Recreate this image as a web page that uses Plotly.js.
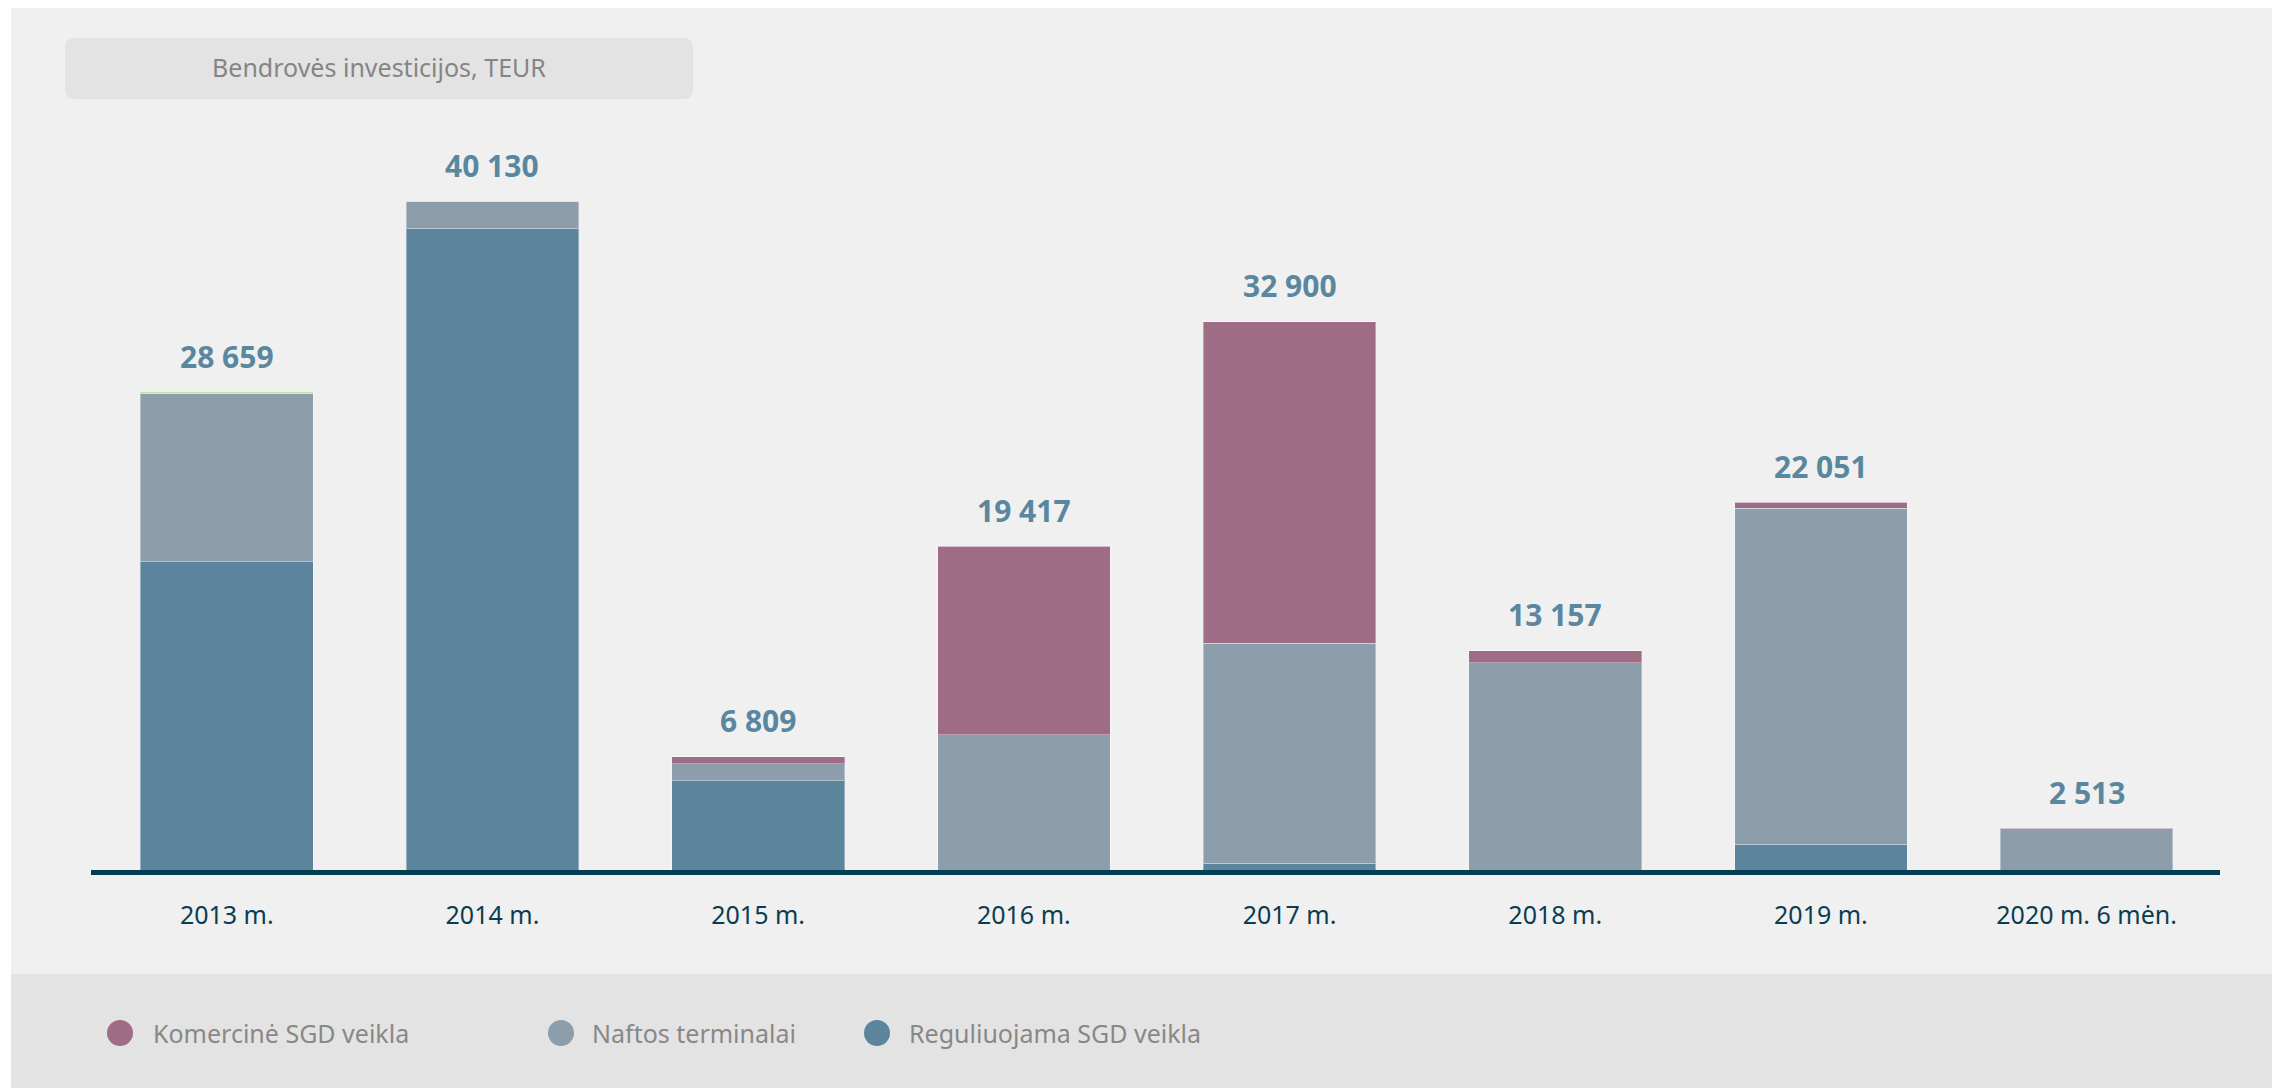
<!DOCTYPE html>
<html>
<head>
<meta charset="utf-8">
<script src="https://cdn.plot.ly/plotly-3.0.1.min.js"></script>
<style>
  html, body { margin: 0; padding: 0; background: #ffffff; }
  #chart { width: 2272px; height: 1088px; }
</style>
</head>
<body>
<div id="chart"></div>
<script>
// ---- Data ----
const categories = ["2013 m.", "2014 m.", "2015 m.", "2016 m.", "2017 m.", "2018 m.", "2019 m.", "2020 m. 6 mėn."];
const reguliuojama = [18500, 38520, 5369, 0, 420, 0, 1550, 0];
const naftos = [10099, 1610, 1020, 8122, 13190, 12440, 20141, 2483];
const komercine = [0, 0, 420, 11295, 19290, 717, 360, 30];
const kita = [60, 0, 0, 0, 0, 0, 0, 0];
const seriesNames = ["Komercinė SGD veikla", "Naftos terminalai", "Reguliuojama SGD veikla"];
const chartTitle = "Bendrovės investicijos, TEUR";

// ---- Geometry helpers ----
const W = 2272, H = 1088;
const M = { l: 91, r: 52, t: 120, b: 218 };
const pw = W - M.l - M.r, ph = H - M.t - M.b;
const px2x = px => (px - M.l) / pw;
const py2y = py => (H - M.b - py) / ph;

const colors = {
  kom: "#9e6c84",
  naf: "#8c9dac",
  reg: "#5c859d",
  kita: "#a8d27c"
};
const barLine = { color: "rgba(255,255,255,0.35)", width: 1 };
const FONT = "Noto Sans, Open Sans, sans-serif";

function barTrace(name, vals, color) {
  return {
    type: "bar", name: name, x: categories, y: vals,
    marker: { color: color, line: barLine },
    showlegend: false, hoverinfo: "name+y"
  };
}

const traces = [
  barTrace(seriesNames[2], reguliuojama, colors.reg),
  barTrace(seriesNames[1], naftos, colors.naf),
  barTrace(seriesNames[0], komercine, colors.kom),
  barTrace("Kita", kita, colors.kita)
];

const totals = categories.map((c, i) => reguliuojama[i] + naftos[i] + komercine[i] + kita[i]);
const fmt = v => Math.round(v).toString().replace(/\B(?=(\d{3})+(?!\d))/g, " ");

const annotations = categories.map((c, i) => ({
  x: c, y: totals[i], xref: "x", yref: "y",
  text: "<b>" + fmt(totals[i]) + "</b>",
  showarrow: false, yanchor: "middle", yshift: 36,
  font: { family: FONT, size: 30, color: "#5a87a0" }
}));

// Legend (custom, circles + text), built from series names
const legendColors = [colors.kom, colors.naf, colors.reg];
const legendMarkX = [120, 561, 877];
const legendTextX = [151, 590, 907];
const legendY = 1033;
const R = 13;

const shapes = [];
// panel background
shapes.push({
  type: "rect", xref: "paper", yref: "paper", layer: "below",
  x0: px2x(11), x1: px2x(W), y0: py2y(H), y1: py2y(8),
  fillcolor: "#f0f0f0", line: { width: 0 }
});
// legend band
shapes.push({
  type: "rect", xref: "paper", yref: "paper", layer: "below",
  x0: px2x(11), x1: px2x(W), y0: py2y(H), y1: py2y(974),
  fillcolor: "#e3e3e3", line: { width: 0 }
});
// title rounded box
(function () {
  const x0 = 65, x1 = 693, y0 = 38, y1 = 99, r = 10;
  const X = px2x, Y = py2y;
  const p = `M ${X(x0 + r)} ${Y(y0)} L ${X(x1 - r)} ${Y(y0)} Q ${X(x1)} ${Y(y0)} ${X(x1)} ${Y(y0 + r)} ` +
            `L ${X(x1)} ${Y(y1 - r)} Q ${X(x1)} ${Y(y1)} ${X(x1 - r)} ${Y(y1)} ` +
            `L ${X(x0 + r)} ${Y(y1)} Q ${X(x0)} ${Y(y1)} ${X(x0)} ${Y(y1 - r)} ` +
            `L ${X(x0)} ${Y(y0 + r)} Q ${X(x0)} ${Y(y0)} ${X(x0 + r)} ${Y(y0)} Z`;
  shapes.push({ type: "path", xref: "paper", yref: "paper", layer: "below", path: p,
    fillcolor: "#e3e3e3", line: { width: 0 } });
})();

seriesNames.forEach((n, i) => {
  shapes.push({
    type: "circle", xref: "paper", yref: "paper", layer: "above",
    x0: px2x(legendMarkX[i] - R), x1: px2x(legendMarkX[i] + R),
    y0: py2y(legendY + R), y1: py2y(legendY - R),
    fillcolor: legendColors[i], line: { width: 0 }
  });
  annotations.push({
    xref: "paper", yref: "paper", x: px2x(legendTextX[i]), y: py2y(legendY),
    xanchor: "left", yanchor: "middle", showarrow: false, text: n,
    font: { family: FONT, size: 25, color: "#888888" }
  });
});

const layout = {
  width: W, height: H,
  margin: M,
  paper_bgcolor: "#ffffff",
  plot_bgcolor: "#f0f0f0",
  barmode: "stack",
  bargap: 0.35,
  showlegend: false,
  title: {
    text: chartTitle,
    x: 379 / W, xref: "container", xanchor: "center",
    y: 1 - 68 / H, yref: "container", yanchor: "middle",
    font: { family: FONT, size: 25, color: "#858585" }
  },
  xaxis: {
    type: "category",
    range: [-0.511, 7.502],
    showline: true, linecolor: "#043e52", linewidth: 5,
    showgrid: false, zeroline: false,
    ticks: "", ticklabelstandoff: 19,
    tickfont: { family: FONT, size: 25, color: "#0b3d50" },
    fixedrange: true
  },
  yaxis: {
    range: [0, 45000],
    visible: false, showgrid: false, zeroline: false, fixedrange: true
  },
  shapes: shapes,
  annotations: annotations,
  font: { family: FONT }
};

Plotly.newPlot("chart", traces, layout, { displayModeBar: false, staticPlot: true });
</script>
</body>
</html>
